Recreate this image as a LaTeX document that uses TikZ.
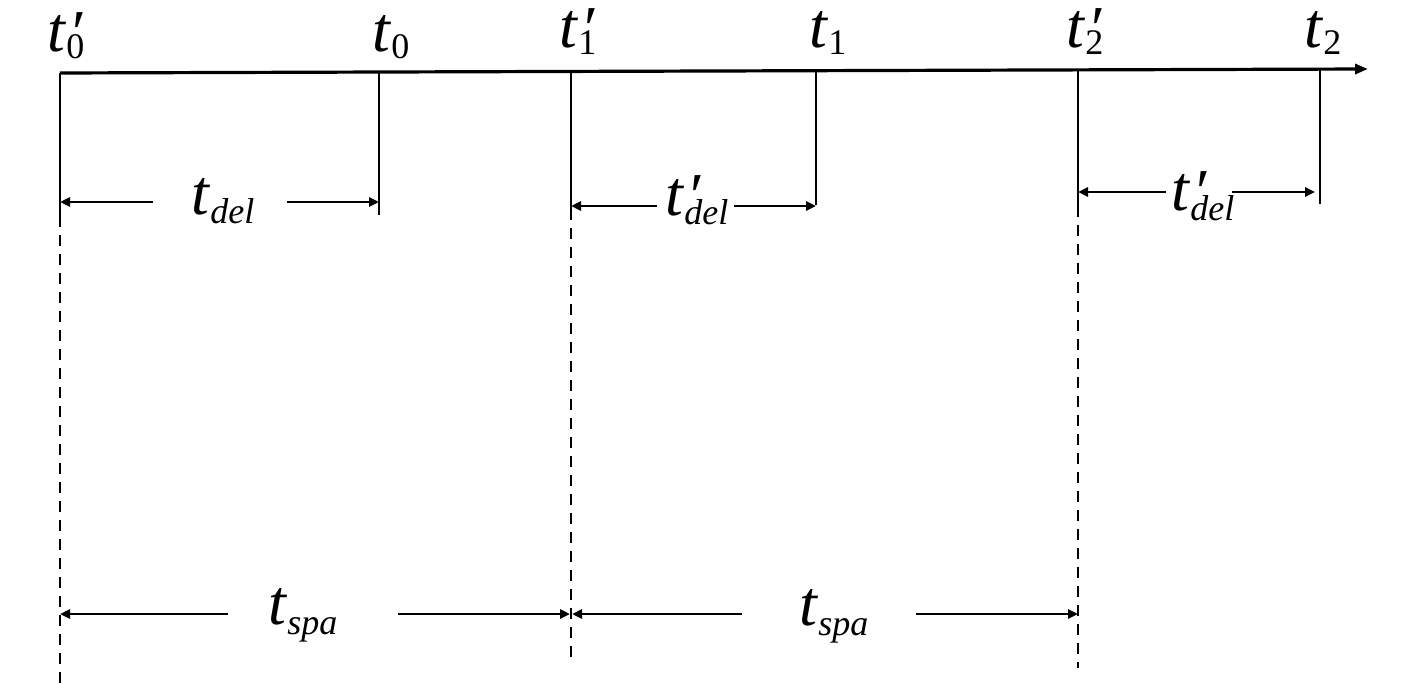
\documentclass[tikz,border=0pt]{standalone}
\usepackage{fontspec}
\setmainfont{Liberation Serif}
\usetikzlibrary{arrows.meta}
\newcommand\subsz{\fontsize{18}{18}\selectfont}
\newcommand\primemark{\rlap{\kern1pt\raisebox{-1.5pt}{\textit{′}}}}
\newcommand\Tsub[1]{\textit{t}\raisebox{-3.5pt}{\subsz #1}}
\newcommand\Tpsub[1]{\textit{t}\primemark\raisebox{-3.5pt}{\subsz #1}}
\newcommand\Tdsub[1]{\textit{t}\raisebox{-5pt}{\subsz\itshape #1}}
\newcommand\Tpdsub[1]{\textit{t}\primemark\raisebox{-5pt}{\subsz\itshape #1}}
\begin{document}
\begin{tikzpicture}[x=0.5pt,y=-0.5pt,
  lbl/.style={anchor=base west,inner sep=0pt,font=\fontsize{32}{36}\selectfont},
  tick/.style={line width=1.4pt},
  axisline/.style={line width=1.6pt,-{Triangle[length=6.5pt,width=5pt]}},
  dimline/.style={line width=1.3pt,-{Triangle[length=5pt,width=4.5pt]}},
  guide/.style={line width=1.3pt,dash pattern=on 5.5pt off 4pt}]
\useasboundingbox (0,0) rectangle (1417,684);
% axis
\coordinate (a0) at (60,73);
\coordinate (aend) at (1368,69);
\draw[axisline] (a0) -- (aend);
% tick tops and bottoms
\coordinate (p0) at (60,73);    \coordinate (p0b) at (60,216);  \coordinate (p0d) at (60,684);
\coordinate (q0) at (379,72);   \coordinate (q0b) at (379,215);
\coordinate (p1) at (571,71.5); \coordinate (p1b) at (571,209); \coordinate (p1d) at (571,663);
\coordinate (q1) at (816,71);   \coordinate (q1b) at (816,205);
\coordinate (p2) at (1078,70);  \coordinate (p2b) at (1078,206);\coordinate (p2d) at (1078,668);
\coordinate (q2) at (1320,69.5);\coordinate (q2b) at (1320,204);
\draw[tick] (p0) -- (p0b);
\draw[tick] (q0) -- (q0b);
\draw[tick] (p1) -- (p1b);
\draw[tick] (q1) -- (q1b);
\draw[tick] (p2) -- (p2b);
\draw[tick] (q2) -- (q2b);
\draw[guide] (p0b) -- (p0d);
\draw[guide] (p1b) -- (p1d);
\draw[guide] (p2b) -- (p2d);
% top labels
\node[lbl] (L0p) at (47,52) {\Tpsub{0}};
\node[lbl] (L0) at (372,52) {\Tsub{0}};
\node[lbl] (L1p) at (559,48) {\Tpsub{1}};
\node[lbl] (L1) at (809,48) {\Tsub{1}};
\node[lbl] (L2p) at (1066,48) {\Tpsub{2}};
\node[lbl] (L2) at (1304,48) {\Tsub{2}};
% t_del
\coordinate (d0l) at (60,202);  \coordinate (d0r) at (379,202);
\coordinate (g0l) at (153,202); \coordinate (g0r) at (287,202);
\draw[dimline] (g0l) -- (d0l);
\draw[dimline] (g0r) -- (d0r);
\node[lbl] (Tdel) at (191,214) {\Tdsub{del}};
% t'_del 1
\coordinate (d1l) at (571,206);  \coordinate (d1r) at (816,206);
\coordinate (g1l) at (657,206);  \coordinate (g1r) at (734,206);
\draw[dimline] (g1l) -- (d1l);
\draw[dimline] (g1r) -- (d1r);
\node[lbl] (Tdel1) at (665,215) {\Tpdsub{del}};
% t'_del 2
\coordinate (d2l) at (1078,192); \coordinate (d2r) at (1315,192);
\coordinate (g2l) at (1166,192); \coordinate (g2r) at (1232,192);
\draw[dimline] (g2l) -- (d2l);
\draw[dimline] (g2r) -- (d2r);
\node[lbl] (Tdel2) at (1171,211) {\Tpdsub{del}};
% t_spa
\coordinate (s0l) at (60,614);  \coordinate (s0r) at (570,614);
\coordinate (h0l) at (228,614); \coordinate (h0r) at (398,614);
\draw[dimline] (h0l) -- (s0l);
\draw[dimline] (h0r) -- (s0r);
\node[lbl] (Tspa0) at (268,624) {\Tdsub{spa}};
\coordinate (s1l) at (572,614);  \coordinate (s1r) at (1078,614);
\coordinate (h1l) at (742,614);  \coordinate (h1r) at (916,614);
\draw[dimline] (h1l) -- (s1l);
\draw[dimline] (h1r) -- (s1r);
\node[lbl] (Tspa1) at (799,625) {\Tdsub{spa}};
\end{tikzpicture}
\end{document}
